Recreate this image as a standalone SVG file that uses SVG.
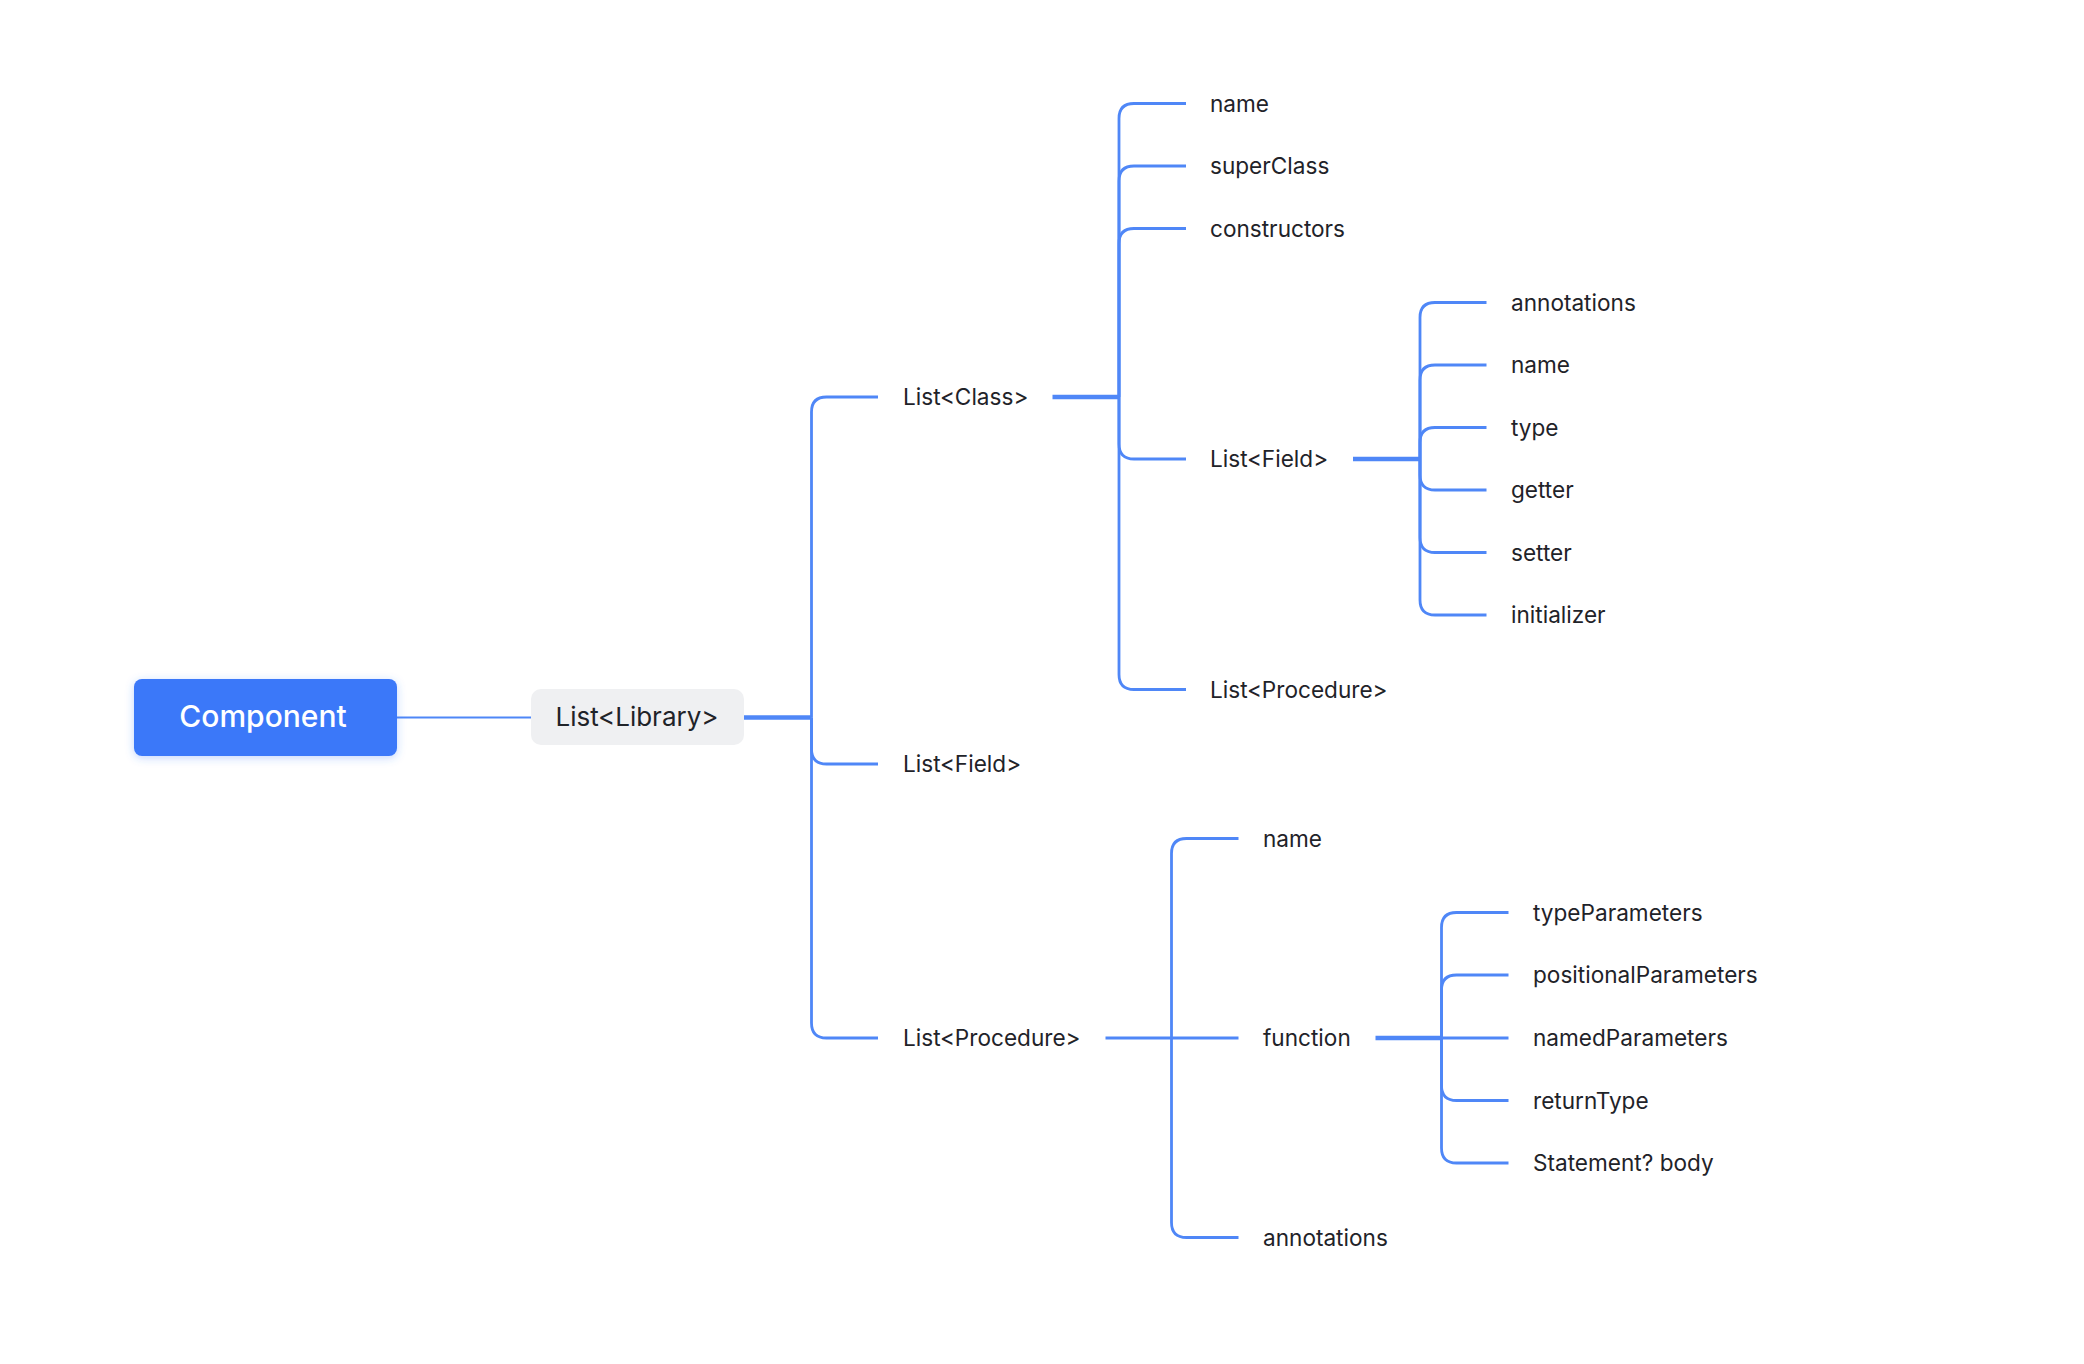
<svg xmlns="http://www.w3.org/2000/svg" width="2084" height="1364" viewBox="0 0 2084 1364">
<style>
.c{fill:none;stroke:#4f87f7;stroke-width:2.8}
.p{stroke-width:4.5}
.t{font-family:Inter,"Liberation Sans","Noto Sans",sans-serif;font-size:22.6px;fill:#1f2329}
.root{font-family:Inter,"Liberation Sans",sans-serif;font-size:30px;font-weight:500;fill:#ffffff;text-anchor:middle}
.lib{font-family:Inter,"Liberation Sans",sans-serif;font-size:26px;fill:#1f2329;text-anchor:middle}
</style>
<defs>
<filter id="sh" x="-20%" y="-40%" width="140%" height="180%">
<feDropShadow dx="0" dy="2" stdDeviation="4" flood-color="#3b78f9" flood-opacity="0.3"/>
</filter>
</defs>
<rect width="2084" height="1364" fill="#ffffff"/>
<g id="connectors">
<path class="c" style="stroke-width:2.2" d="M397 717.5H531"/>
<path class="c p" d="M744 717.5H811.5"/>
<path class="c" d="M811.5 717.5V412Q811.5 397 826.5 397H878"/>
<path class="c" d="M811.5 717.5V749Q811.5 764 826.5 764H878"/>
<path class="c" d="M811.5 717.5V1023Q811.5 1038 826.5 1038H878"/>
<path class="c p" d="M1052.5 397H1119"/>
<path class="c" d="M1119 397V118.5Q1119 103.5 1134 103.5H1186"/>
<path class="c" d="M1119 397V181Q1119 166 1134 166H1186"/>
<path class="c" d="M1119 397V243.5Q1119 228.5 1134 228.5H1186"/>
<path class="c" d="M1119 397V444Q1119 459 1134 459H1186"/>
<path class="c" d="M1119 397V674.5Q1119 689.5 1134 689.5H1186"/>
<path class="c p" d="M1353 459H1420"/>
<path class="c" d="M1420 459V317.5Q1420 302.5 1435 302.5H1486.5"/>
<path class="c" d="M1420 459V380Q1420 365 1435 365H1486.5"/>
<path class="c" d="M1420 459V442.5Q1420 427.5 1435 427.5H1486.5"/>
<path class="c" d="M1420 459V475Q1420 490 1435 490H1486.5"/>
<path class="c" d="M1420 459V537.5Q1420 552.5 1435 552.5H1486.5"/>
<path class="c" d="M1420 459V600Q1420 615 1435 615H1486.5"/>
<path class="c" d="M1105.5 1038H1171.5"/>
<path class="c" d="M1171.5 1038V853.5Q1171.5 838.5 1186.5 838.5H1238.5"/>
<path class="c" d="M1171.5 1038H1238.5"/>
<path class="c" d="M1171.5 1038V1222.5Q1171.5 1237.5 1186.5 1237.5H1238.5"/>
<path class="c p" d="M1375.5 1038H1441.5"/>
<path class="c" d="M1441.5 1038V927.5Q1441.5 912.5 1456.5 912.5H1508.5"/>
<path class="c" d="M1441.5 1038V990Q1441.5 975 1456.5 975H1508.5"/>
<path class="c" d="M1441.5 1038H1508.5"/>
<path class="c" d="M1441.5 1038V1085.5Q1441.5 1100.5 1456.5 1100.5H1508.5"/>
<path class="c" d="M1441.5 1038V1148Q1441.5 1163 1456.5 1163H1508.5"/>
</g>
<g id="component">
<rect x="134" y="679" width="263" height="77" rx="8" fill="#3b78f9" filter="url(#sh)"/>
<text class="root" x="263" y="727">Component</text>
</g>
<g id="library">
<rect x="531" y="689" width="213" height="56" rx="10" fill="#eff0f2"/>
<text class="lib" x="637" y="726">List&lt;Library&gt;</text>
</g>
<g id="class"><text class="t" x="903" y="405">List&lt;Class&gt;</text></g>
<g id="lib-field"><text class="t" x="903" y="772">List&lt;Field&gt;</text></g>
<g id="lib-procedure"><text class="t" x="903" y="1046">List&lt;Procedure&gt;</text></g>
<g id="class-name"><text class="t" x="1210" y="111.5">name</text></g>
<g id="class-superclass"><text class="t" x="1210" y="174">superClass</text></g>
<g id="class-constructors"><text class="t" x="1210" y="236.5">constructors</text></g>
<g id="class-field"><text class="t" x="1210" y="467">List&lt;Field&gt;</text></g>
<g id="class-procedure"><text class="t" x="1210" y="697.5">List&lt;Procedure&gt;</text></g>
<g id="field-annotations"><text class="t" x="1511" y="310.5">annotations</text></g>
<g id="field-name"><text class="t" x="1511" y="373">name</text></g>
<g id="field-type"><text class="t" x="1511" y="435.5">type</text></g>
<g id="field-getter"><text class="t" x="1511" y="498">getter</text></g>
<g id="field-setter"><text class="t" x="1511" y="560.5">setter</text></g>
<g id="field-initializer"><text class="t" x="1511" y="623">initializer</text></g>
<g id="proc-name"><text class="t" x="1263" y="846.5">name</text></g>
<g id="proc-function"><text class="t" x="1263" y="1046">function</text></g>
<g id="proc-annotations"><text class="t" x="1263" y="1245.5">annotations</text></g>
<g id="fn-typeparameters"><text class="t" x="1533" y="920.5">typeParameters</text></g>
<g id="fn-positionalparameters"><text class="t" x="1533" y="983">positionalParameters</text></g>
<g id="fn-namedparameters"><text class="t" x="1533" y="1046">namedParameters</text></g>
<g id="fn-returntype"><text class="t" x="1533" y="1108.5">returnType</text></g>
<g id="fn-body"><text class="t" x="1533" y="1171">Statement? body</text></g>
</svg>
